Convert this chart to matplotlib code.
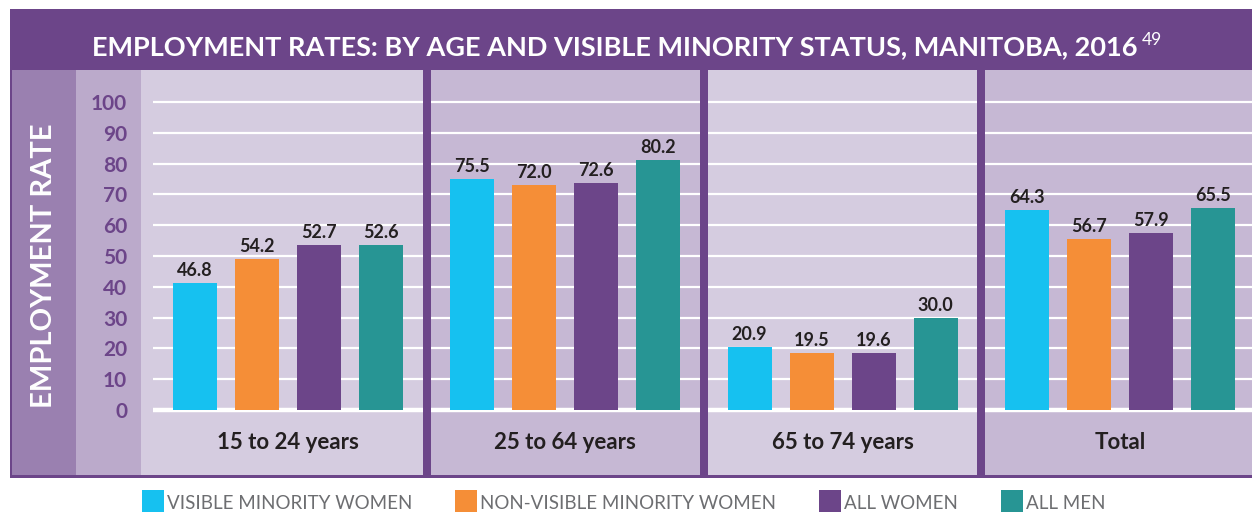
import matplotlib
matplotlib.use("Agg")
import matplotlib.pyplot as plt
from matplotlib.patches import Rectangle

# ---------------- data ----------------
categories = ["15 to 24 years", "25 to 64 years", "65 to 74 years", "Total"]
series_names = ["VISIBLE MINORITY WOMEN", "NON-VISIBLE MINORITY WOMEN", "ALL WOMEN", "ALL MEN"]
# bar heights as drawn in the picture
visible_minority_women = [41.3, 75.0, 20.6, 65.0]
non_visible_minority_women = [49.1, 73.0, 18.6, 55.6]
all_women = [53.6, 73.7, 18.6, 57.5]
all_men = [53.6, 81.1, 30.0, 65.6]
# value labels as printed
labels_vmw = ["46.8", "75.5", "20.9", "64.3"]
labels_nvmw = ["54.2", "72.0", "19.5", "56.7"]
labels_aw = ["52.7", "72.6", "19.6", "57.9"]
labels_am = ["52.6", "80.2", "30.0", "65.5"]
yticks = [0, 10, 20, 30, 40, 50, 60, 70, 80, 90, 100]

series_values = [visible_minority_women, non_visible_minority_women, all_women, all_men]
series_labels = [labels_vmw, labels_nvmw, labels_aw, labels_am]
colors = ["#16C1F0", "#F58E37", "#6C4589", "#279594"]

# ---------------- style ----------------
FONT = ["Lato", "DejaVu Sans"]
plt.rcParams["font.family"] = FONT
PURPLE = "#6C4589"
W, H = 1252, 512
fig = plt.figure(figsize=(W / 100, H / 100), dpi=100)

def fx(x):
    return x / W

def fy(y):
    return 1 - y / H

def frect(x0, y0, x1, y1, color, z=-10):
    fig.patches.append(Rectangle((fx(x0), fy(y1)), fx(x1) - fx(x0), fy(y0) - fy(y1),
                                 transform=fig.transFigure, color=color, zorder=z, lw=0))

frect(10, 9, 1252, 478, PURPLE, -10)
frect(12, 70, 76, 475, "#9A80B0", -9)
frect(76, 70, 141, 475, "#BBAACB", -9)

# axes: x=0 at px 288, 277.3 px per group; y=0 at px 410, 3.08 px per unit
PXG = 277.3
X0 = 288
Y0 = 410
PXU = 3.08
ax = fig.add_axes([fx(141), fy(475), fx(1252) - fx(141), fy(70) - fy(475)])
ax.set_zorder(5)
xmin, xmax = (141 - X0) / PXG, (1252 - X0) / PXG
ymin, ymax = (Y0 - 475) / PXU, (Y0 - 70) / PXU
ax.set_xlim(xmin, xmax)
ax.set_ylim(ymin, ymax)
for s in ax.spines.values():
    s.set_visible(False)
ax.set_facecolor("none")

# panels
bounds = [xmin, 0.5, 1.5, 2.5, xmax]
pcols = ["#D5CCE0", "#C6B8D4", "#D5CCE0", "#C6B8D4"]
for i in range(4):
    ax.axvspan(bounds[i], bounds[i + 1], color=pcols[i], lw=0, zorder=0)
for b in bounds[1:-1]:
    ax.axvline(b, color=PURPLE, lw=8 * 0.72, zorder=5)

# gridlines
gx0 = (153 - X0) / PXG
for v in yticks:
    ax.plot([gx0, xmax], [v, v], color="white", lw=(3.2 if v == 0 else 1.6), zorder=1,
            solid_capstyle="butt")

# bars
bw = 44 / PXG
step = 62 / PXG
for i, (vals, labs) in enumerate(zip(series_values, series_labels)):
    xs = [g + (i - 1.5) * step for g in range(len(categories))]
    ax.bar(xs, vals, width=bw, color=colors[i], zorder=3, lw=0)
    for x, v, t in zip(xs, vals, labs):
        ax.text(x, v + 7 / PXU, t, ha="center", va="baseline", fontsize=13,
                fontweight="bold", color="#231F20", zorder=6)

# category labels
for g, c in enumerate(categories):
    ax.text(g, (Y0 - 449) / PXU, c, ha="center", va="baseline", fontsize=16,
            fontweight="bold", color="#231F20", zorder=6)

ax.set_xticks([])
ax.set_yticks(yticks)
ax.set_yticklabels([str(v) for v in yticks])
ax.tick_params(axis="y", length=0, pad=10, labelsize=15, labelcolor=PURPLE)
for t in ax.get_yticklabels():
    t.set_fontweight("bold")

# y title
fig.text(fx(44), fy(266), "EMPLOYMENT RATE", rotation=90, ha="center", va="center",
         fontsize=21, fontweight="bold", color="white")

# title
title = fig.text(fx(615), fy(55), "EMPLOYMENT RATES: BY AGE AND VISIBLE MINORITY STATUS, MANITOBA, 2016",
                 ha="center", va="baseline", fontsize=19.5, fontweight="bold", color="white")
fig.canvas.draw()
bb = title.get_window_extent()
fig.text(bb.x1 / W + 4 / W, fy(45), "49", ha="left", va="baseline", fontsize=12.5,
         color="white")

# legend
leg_x = [142, 455, 819, 1001]
for x, name, col in zip(leg_x, series_names, colors):
    frect(x, 490, x + 22, 512, col, 2)
    fig.text(fx(x + 25), fy(509), name, ha="left", va="baseline", fontsize=13.5,
             color="#6D6E71")

fig.savefig("out.png", dpi=100)
